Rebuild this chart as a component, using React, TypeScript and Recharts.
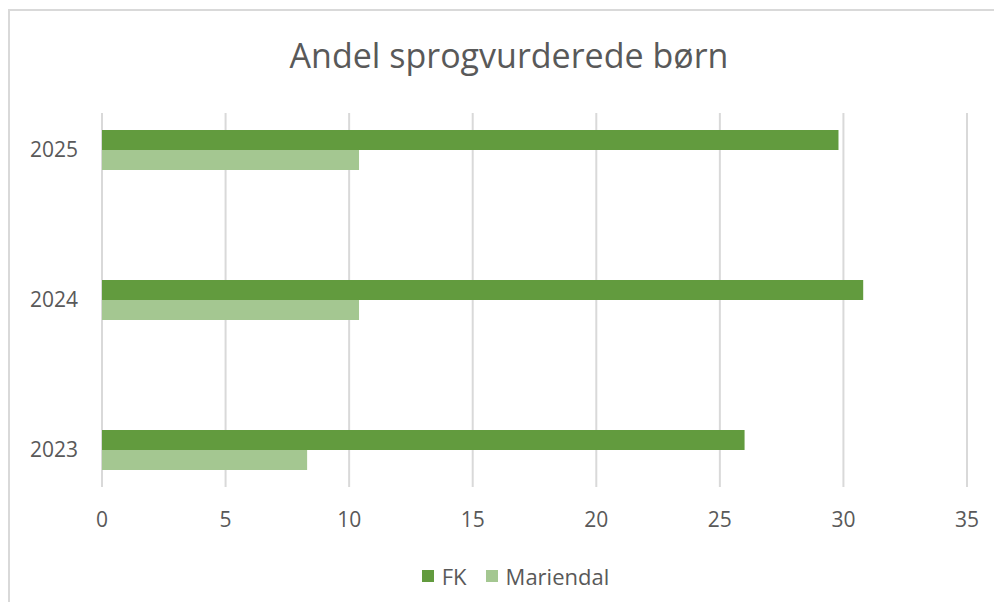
import { BarChart, Bar, XAxis, YAxis, CartesianGrid } from "recharts";

const years = [2025, 2024, 2023];
const fkValues = [29.8, 30.8, 26.0];
const mariendalValues = [10.4, 10.4, 8.3];
const xTicks = [0, 5, 10, 15, 20, 25, 30, 35];

const seriesNames = ["FK", "Mariendal"];
const seriesColors = ["#629b3e", "#a4c791"];

const data = years.map((year, i) => ({
	year,
	FK: fkValues[i],
	Mariendal: mariendalValues[i],
}));

const font = "'Open Sans', sans-serif";
const textColor = "#595959";

export default function App() {
	return (
		<div
			style={{
				position: "relative",
				width: 1002,
				height: 610,
				margin: -8,
				overflow: "hidden",
				background: "#fff",
				fontFamily: font,
			}}
		>
			<div
				style={{
					position: "absolute",
					left: 8,
					top: 9,
					width: 1010,
					height: 620,
					border: "2px solid #d9d9d9",
				}}
			/>
			<div
				style={{
					position: "absolute",
					left: 0,
					width: 1018,
					top: 32,
					textAlign: "center",
					fontSize: 34,
					lineHeight: "46px",
					color: textColor,
				}}
			>
				Andel sprogvurderede børn
			</div>
			<div style={{ position: "absolute", left: 0, top: 0 }}>
				<BarChart
					width={1002}
					height={610}
					data={data}
					layout="vertical"
					barGap={0}
					margin={{ top: 113, right: 35, bottom: 83, left: 0 }}
				>
					<CartesianGrid
						horizontal={false}
						stroke="#d9d9d9"
						strokeWidth={2}
					/>
					<XAxis
						type="number"
						domain={[0, 35]}
						ticks={xTicks}
						axisLine={false}
						tickLine={false}
						tickSize={0}
						tickMargin={25}
						height={40}
						tick={{ fill: textColor, fontSize: 21, fontFamily: font }}
					/>
					<YAxis
						type="number"
						dataKey="year"
						domain={[2022.753, 2025.247]}
						ticks={years}
						reversed
						allowDecimals
						axisLine={false}
						tickLine={false}
						tickSize={0}
						tickMargin={24}
						width={102}
						tick={{ fill: textColor, fontSize: 21, fontFamily: font }}
					/>
					{seriesNames.map((name, i) => (
						<Bar
							key={name}
							dataKey={name}
							fill={seriesColors[i]}
							barSize={20}
							isAnimationActive={false}
						/>
					))}
				</BarChart>
			</div>
			<div
				style={{
					position: "absolute",
					left: 0,
					width: 1031,
					top: 561,
					display: "flex",
					justifyContent: "center",
					alignItems: "center",
					gap: 19,
					fontSize: 22,
					lineHeight: "30px",
					color: textColor,
				}}
			>
				{seriesNames.map((name, i) => (
					<div key={name} style={{ display: "flex", alignItems: "center" }}>
						<span
							style={{
								width: 12,
								height: 12,
								background: seriesColors[i],
								marginRight: 8,
								display: "inline-block",
							}}
						/>
						<span>{name}</span>
					</div>
				))}
			</div>
		</div>
	);
}
